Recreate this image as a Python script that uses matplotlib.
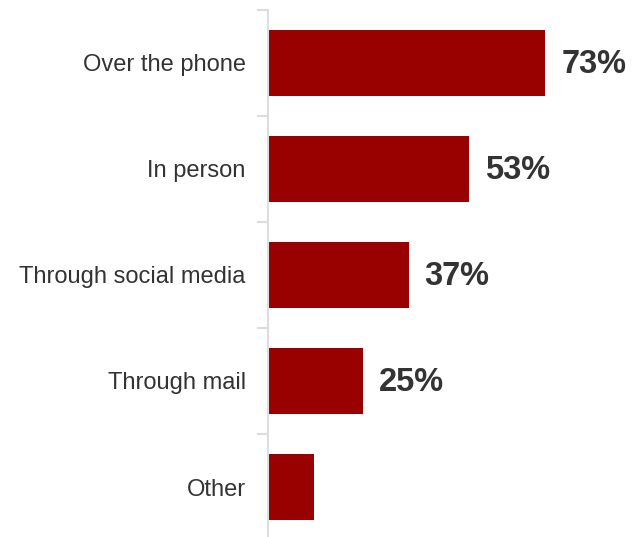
import matplotlib
matplotlib.use("Agg")
import matplotlib.pyplot as plt
import numpy as np

categories = ["Over the phone", "In person", "Through social media", "Through mail", "Other"]
values = [73, 53, 37, 25, 12]
labels = ["73%", "53%", "37%", "25%", ""]

plt.rcParams['font.family'] = ['Liberation Sans', 'DejaVu Sans']

W, H = 633, 537
fig = plt.figure(figsize=(W / 100, H / 100), dpi=100)
ax_left, ax_top, ax_bottom_px = 268, 10, 540
ax = fig.add_axes([ax_left / W, (H - ax_bottom_px) / H, (W - ax_left) / W, (ax_bottom_px - ax_top) / H])

n = len(categories)
y = np.arange(n)
ax.barh(y, values, height=0.63, color="#990000", edgecolor="none", zorder=2)
ax.set_ylim(n - 0.5, -0.5)
px_per_unit = 3.8
ax.set_xlim(0, (W - ax_left) / px_per_unit)

for yi, v, lab in zip(y, values, labels):
    if lab:
        ax.annotate(lab, (v, yi), xytext=(11.5, -1), textcoords="offset points",
                    va="center", ha="left", fontsize=23.5, fontweight="bold", color="#333333")

ax.set_yticks(y)
ax.set_yticklabels(categories, fontsize=17, color="#333333")
ax.tick_params(axis="y", which="major", length=0, pad=16)
ax.set_yticks(np.arange(n + 1) - 0.5, minor=True)
ax.tick_params(axis="y", which="minor", length=8, width=1.5, color="#dddddd")
ax.set_xticks([])
for s in ["top", "right", "bottom"]:
    ax.spines[s].set_visible(False)
ax.spines["left"].set_color("#dddddd")
ax.spines["left"].set_linewidth(1.5)

fig.savefig("out.png", dpi=100)
